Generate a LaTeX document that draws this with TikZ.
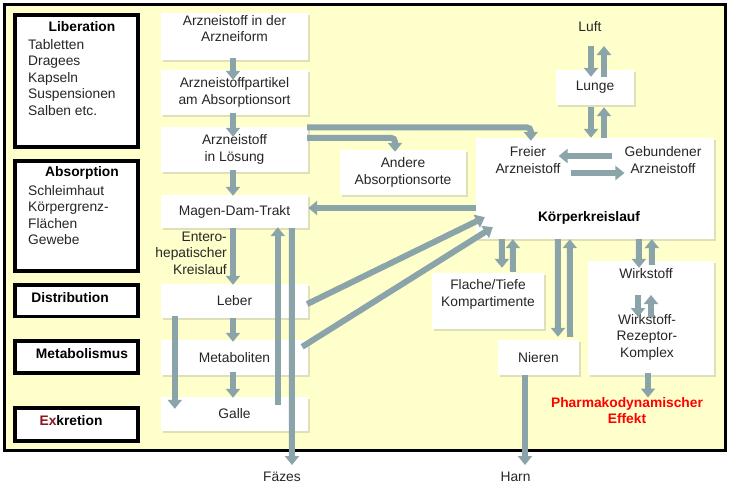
\documentclass[tikz,border=0pt]{standalone}
\usepackage{fontspec}
\setmainfont{Liberation Sans}
\usetikzlibrary{arrows.meta,calc,shadows}
\definecolor{pkflow}{RGB}{139,164,169}
\definecolor{pkback}{RGB}{255,255,204}
\definecolor{pkred}{RGB}{255,0,0}
\definecolor{exred}{RGB}{140,20,30}
\begin{document}
\begin{tikzpicture}[x=1pt, y=-1pt, font=\fontsize{13.8}{16.5}\selectfont,
    stage/.style={draw=black, line width=3.5pt, fill=white, minimum width=123, inner sep=0},
    cell/.style={fill=white, inner sep=0, align=center, text=black!85,
      drop shadow={shadow xshift=1.5pt, shadow yshift=-2pt, opacity=0.25}},
    note/.style={inner sep=0, align=center, text=black!85},
    head/.style={inner sep=0, align=center, font=\fontsize{13.8}{16.5}\selectfont\bfseries},
    flow/.style={draw=pkflow, line width=6pt, -{Triangle[width=14pt,length=9pt]}}]
    \useasboundingbox (0,0) rectangle (736,498);
    \filldraw[fill=pkback, draw=black, line width=3pt] (4.5,4.5) rectangle (725.5,450.5);

    % phases
    \node[stage, minimum height=132] (lib) at (76.5,81) {};
    \node[stage, minimum height=110] (absorb) at (76.5,216) {};
    \node[stage, minimum height=31.5] (distr) at (76.5,300.5) {};
    \node[stage, minimum height=32] (metabo) at (76.5,357) {};
    \node[stage, minimum height=33] (exkr) at (76.5,424.5) {};
    \node[head] (libt) at (82,27) {Liberation};
    \node[note, align=left, anchor=north west] (libl) at (28,39) {Tabletten\\Dragees\\Kapseln\\Suspensionen\\Salben etc.};
    \node[head] (absorbt) at (82,173) {Absorption};
    \node[note, align=left, anchor=north west] (absorbl) at (28,185) {Schleimhaut\\Körpergrenz-\\Flächen\\Gewebe};
    \node[head] (distrt) at (70,298) {Distribution};
    \node[head] (metabot) at (82,354) {Metabolismus};
    \node[head] (exkrt) at (71,421) {\textcolor{exred}{Ex}kretion};

    % stations
    \node[cell, minimum width=147, minimum height=47] (form) at (234.5,36.5) {};
    \node[note] (formt) at (234.5,28.5) {Arzneistoff in der\\Arzneiform};
    \node[cell, minimum width=147, minimum height=45] (part) at (234.5,92.5) {Arzneistoffpartikel\\am Absorptionsort};
    \node[cell, minimum width=147, minimum height=45] (loes) at (234.5,149.5) {Arzneistoff\\in Lösung};
    \node[cell, minimum width=147, minimum height=33] (mdt) at (234.5,211.5) {Magen-Dam-Trakt};
    \node[cell, minimum width=147, minimum height=34] (leber) at (234.5,301) {Leber};
    \node[cell, minimum width=147, minimum height=35] (metab) at (234.5,357.5) {Metaboliten};
    \node[cell, minimum width=147, minimum height=34] (galle) at (234.5,414) {Galle};
    \node[cell, minimum width=126, minimum height=45] (andere) at (403,172.5) {Andere\\Absorptionsorte};
    \node[cell, minimum width=238, minimum height=101] (kk) at (595,188.5) {};
    \node[note] (freier) at (528,160) {Freier\\Arzneistoff};
    \node[note] (gebunden) at (663,160) {Gebundener\\Arzneistoff};
    \node[head] (kkt) at (589,218) {Körperkreislauf};
    \node[cell, minimum width=78, minimum height=35] (lunge) at (595,87.5) {Lunge};
    \node[cell, minimum width=112, minimum height=56] (flache) at (488,301) {};
    \node[note] (flachet) at (488,294.5) {Flache/Tiefe\\Kompartimente};
    \node[cell, minimum width=81, minimum height=35] (nieren) at (538.5,357.5) {Nieren};
    \node[cell, minimum width=126, minimum height=114] (wbox) at (651,318) {};
    \node[note] (wirk) at (646,274) {Wirkstoff};
    \node[note] (wrk) at (647,337) {Wirkstoff-\\Rezeptor-\\Komplex};
    \node[note] (luft) at (590,27) {Luft};
    \node[note, align=right, anchor=east] (entero) at (227,253) {Entero-\\hepatischer\\Kreislauf};
    \node[note] (faezes) at (282,477) {Fäzes};
    \node[note] (harn) at (515.5,477) {Harn};
    \node[head, text=pkred] (pharma) at (627,410.5) {Pharmakodynamischer\\Effekt};

    % main chain
    \draw[flow] ($(form.south)+(-1.5,-2)$) -- ($(part.north)+(-1.5,10)$);
    \draw[flow] ($(part.south)+(-1.5,-2)$) -- ($(loes.north)+(-1.5,10)$);
    \draw[flow] ($(loes.south)+(-1.5,-2)$) -- ($(mdt.north)+(-1.5,1)$);
    \draw[flow] ($(mdt.south)+(-1.5,0)$) -- ($(leber.north)+(-1.5,1)$);
    \draw[flow] ($(leber.south)+(-1.5,0)$) -- ($(metab.north)+(-1.5,2)$);
    \draw[flow] ($(metab.south)+(-1.5,-3)$) -- ($(galle.north)+(-1.5,1)$);
    \draw[flow] ($(leber.south west)+(14,-2)$) -- ($(galle.north west)+(14,12)$);
    \draw[flow] ($(galle.north west)+(117,8)$) -- ($(mdt.south west)+(117,-1)$);
    \draw[flow] ($(mdt.south west)+(131,0)$) -- ($(faezes.center)+(10,-12)$);
    \draw[flow] ($(kk.west)+(0,19.5)$) -- ($(mdt.east)+(0,-3.5)$);
    \draw[flow] ($(leber.east)+(-1,3)$) -- ($(kk.south west)+(9,-22)$);
    \draw[flow] ($(metab.north east)+(-6,7)$) -- ($(kk.south west)+(17,-12)$);
    \draw[flow, rounded corners=4] ($(loes.north east)+(-1,0.5)$) -| ($(kk.north west)+(55,3)$);
    \draw[flow, rounded corners=4] ($(loes.north east)+(-1,11)$) -| ($(andere.north)+(-8,2)$);

    % circulation
    \draw[flow] ($(luft.center)+(1,19)$) -- ($(lunge.north)+(-4,7)$);
    \draw[flow] ($(lunge.north)+(9,7)$) -- ($(luft.center)+(14,19)$);
    \draw[flow] ($(lunge.south)+(-4,2)$) -- ($(kk.north)+(-4,0)$);
    \draw[flow] ($(kk.north)+(9,0)$) -- ($(lunge.south)+(9,2)$);
    \draw[flow] ($(gebunden.west)+(-12,-4)$) -- ($(freier.east)+(-2,-4)$);
    \draw[flow] ($(freier.east)+(10,13)$) -- ($(gebunden.west)+(0,13)$);
    \draw[flow] ($(kk.south west)+(26,0)$) -- ($(flache.north)+(14,-5)$);
    \draw[flow] ($(flache.north)+(25,-1)$) -- ($(kk.south west)+(37,0)$);
    \draw[flow] ($(kk.south west)+(82,0)$) -- ($(nieren.north)+(19.5,-3)$);
    \draw[flow] ($(nieren.north)+(31.5,-3)$) -- ($(kk.south west)+(94,0)$);
    \draw[flow] ($(kk.south west)+(163,0)$) -- ($(wbox.north)+(-12,7)$);
    \draw[flow] ($(wbox.north)+(1,4)$) -- ($(kk.south west)+(176,0)$);
    \draw[flow] ($(wirk.center)+(-8,21)$) -- ($(wrk.center)+(-9,-20)$);
    \draw[flow] ($(wrk.center)+(4,-20)$) -- ($(wirk.center)+(5,21)$);
    \draw[flow] ($(wbox.south)+(-3,-2)$) -- ($(pharma.center)+(21,-13)$);
    \draw[flow] ($(nieren.south)+(-13.5,0)$) -- ($(harn.center)+(9.5,-12)$);
\end{tikzpicture}
\end{document}
